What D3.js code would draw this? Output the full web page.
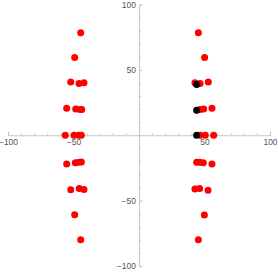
<!DOCTYPE html>
<html>
<head>
<meta charset="utf-8">
<script src="https://cdn.jsdelivr.net/npm/d3@7"></script>
<style>
  body { margin: 0; background: #fff; }
  .axis path, .axis line { stroke: #c4c4c4; }
  .axis text { fill: #555; font-family: "Liberation Sans", Arial, sans-serif; font-size: 8.5px; }
</style>
</head>
<body>
<svg width="278" height="273"></svg>
<script>
// red points, left column then right column
var redX = [-44.5, -49.1, -52.1, -45.8, -42, -55.2, -48.3, -45, -43.7, -56.3, -49.6, -46, -44,
            -55.2, -48.6, -45.8, -44, -52.1, -45.6, -42, -49.1, -44.5,
            45.3, 50.1, 42.7, 46.6, 52.9, 46.6, 49.4, 55.7, 46.8, 50.6, 57,
            44, 46.3, 49.1, 55.7, 42.7, 46.3, 52.7, 49.9, 45.3];
var redY = [78.4, 59.5, 40.7, 39.5, 40.2, 20.6, 20.1, 19.6, 19.6, 0, 0, 0, 0,
            -21.9, -21.1, -20.6, -20.4, -41.7, -40.7, -41.5, -60.8, -79.9,
            78.4, 59.5, 40.2, 39.5, 40.7, 19.6, 20.1, 20.6, 0, 0, 0,
            -20.6, -20.6, -21.1, -21.9, -41.2, -40.7, -42, -61, -79.9];
var blackX = [44, 44, 44];
var blackY = [38.9, 19.1, 0];

var majorTicks = [-100, -50, 50, 100];
var minorTicks = d3.range(-100, 101, 10).filter(function(d){ return d % 50 != 0; });

var svg = d3.select("svg");

var x = d3.scaleLinear().domain([-100, 100]).range([8, 270]);
var y = d3.scaleLinear().domain([-100, 100]).range([266, 4.5]);

function fmt(d) { return d < 0 ? "\u2212" + Math.abs(d) : d; }

// x axis (ticks point up, labels below)
var gx = svg.append("g").attr("class", "axis").attr("transform", "translate(0," + y(0) + ")");
gx.call(d3.axisBottom(x).tickValues(minorTicks).tickSize(-2).tickFormat(""));
gx.append("g").call(d3.axisBottom(x).tickValues(majorTicks).tickSize(-3.5).tickFormat(fmt))
    .call(function(g){ g.select(".domain").remove(); });
gx.selectAll("text").attr("dy", "0.9em").attr("y", 2);

// y axis (ticks point right, labels left)
var gy = svg.append("g").attr("class", "axis").attr("transform", "translate(" + x(0) + ",0)");
gy.call(d3.axisLeft(y).tickValues(minorTicks).tickSize(-2).tickFormat(""));
gy.append("g").call(d3.axisLeft(y).tickValues(majorTicks).tickSize(-3.5).tickFormat(fmt))
    .call(function(g){ g.select(".domain").remove(); });
gy.selectAll("text").attr("x", -3);

var red = redX.map(function(d, i){ return {x: d, y: redY[i]}; });
var black = blackX.map(function(d, i){ return {x: d, y: blackY[i]}; });

svg.append("g").selectAll("circle")
    .data(red)
    .enter()
    .append("circle")
    .attr("cx", function(d){ return x(d.x); })
    .attr("cy", function(d){ return y(d.y); })
    .attr("r", 3.5)
    .attr("fill", "#ff0000");

svg.append("g").selectAll("circle")
    .data(black)
    .enter()
    .append("circle")
    .attr("cx", function(d){ return x(d.x); })
    .attr("cy", function(d){ return y(d.y); })
    .attr("r", 3.5)
    .attr("fill", "#000");
</script>
</body>
</html>
